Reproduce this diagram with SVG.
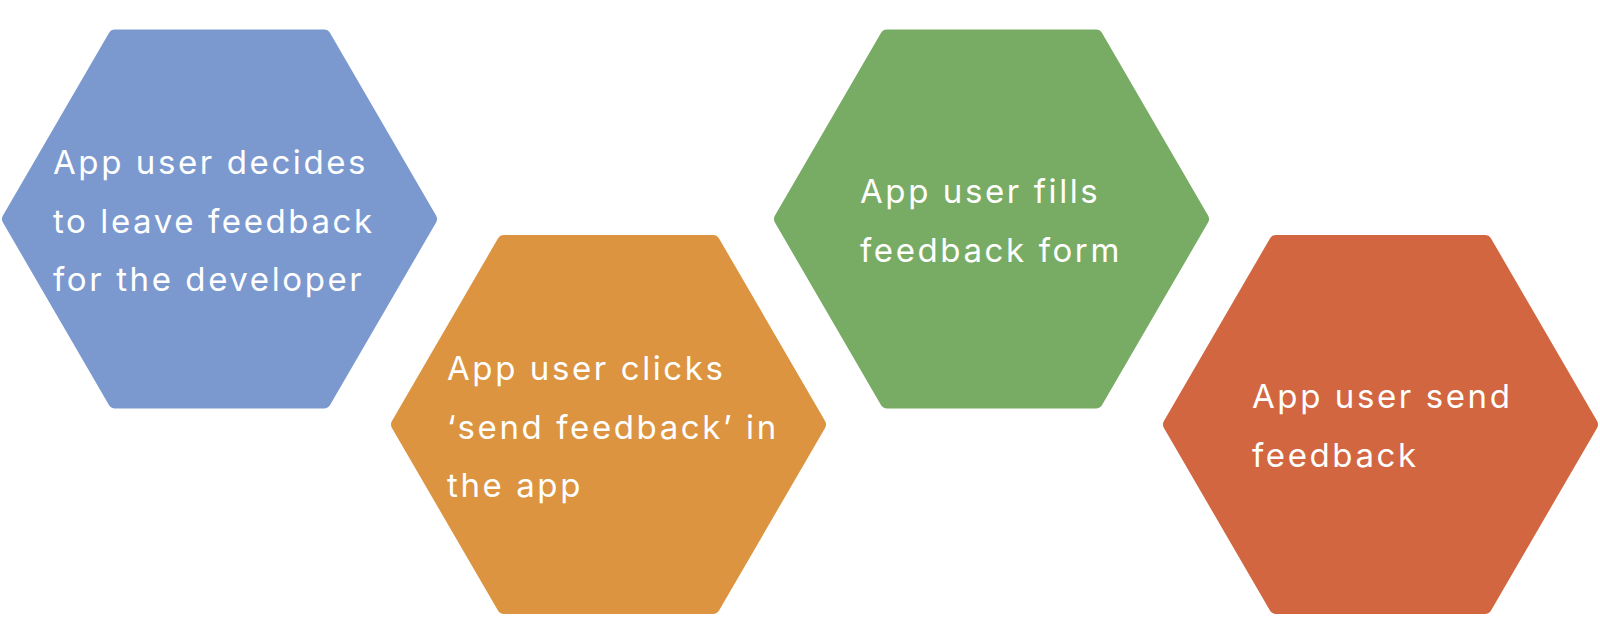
<svg xmlns="http://www.w3.org/2000/svg" width="1600" height="644" viewBox="0 0 1600 644">
<defs>
<style>
.hex{stroke-linejoin:round;stroke-width:14}
.t{font-family:Inter,"Open Sans","Liberation Sans",sans-serif;font-size:33px;letter-spacing:2.6px;fill:#ffffff}
</style>
<path id="hexshape" d="M -210.5 0 L -104.5 -182.5 L 104.5 -182.5 L 210.5 0 L 104.5 182.5 L -104.5 182.5 Z"/>
</defs>
<rect width="1600" height="644" fill="#ffffff"/>
<g id="node1">
<use href="#hexshape" class="hex" transform="translate(219.5,219)" fill="#7B99CF" stroke="#7B99CF"/>
<text class="t" x="53" y="174">App user decides</text>
<text class="t" x="53" y="232.5">to leave feedback</text>
<text class="t" x="53" y="291">for the developer</text>
</g>
<g id="node2">
<use href="#hexshape" class="hex" transform="translate(608.5,424.5)" fill="#DC9440" stroke="#DC9440"/>
<text class="t" x="447" y="380">App user clicks</text>
<text class="t" x="447" y="438.5">‘send feedback’ in</text>
<text class="t" x="447" y="497">the app</text>
</g>
<g id="node3">
<use href="#hexshape" class="hex" transform="translate(991.5,219)" fill="#78AC64" stroke="#78AC64"/>
<text class="t" x="860" y="203">App user fills</text>
<text class="t" x="860" y="261.5">feedback form</text>
</g>
<g id="node4">
<use href="#hexshape" class="hex" transform="translate(1380.5,424.5)" fill="#D26640" stroke="#D26640"/>
<text class="t" x="1252" y="408">App user send</text>
<text class="t" x="1252" y="466.5">feedback</text>
</g>
<g id="connectors"></g>
</svg>
